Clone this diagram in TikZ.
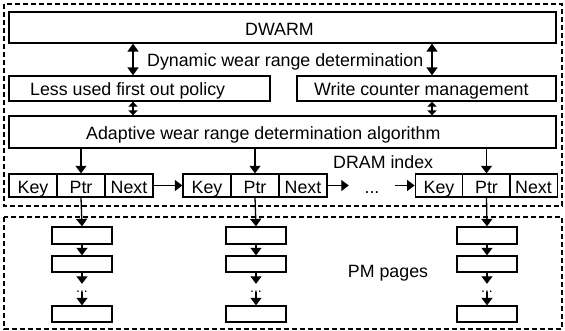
\documentclass[tikz,border=0pt]{standalone}
\usepackage{fontspec}
\setmainfont{Liberation Sans}
\usetikzlibrary{arrows.meta}
\tikzset{
  txt/.style={font=\fontsize{17.8}{20}\selectfont, inner sep=0pt},
  box/.style={draw, line width=1.3pt, inner sep=0pt},
  cell/.style={box, txt, minimum width=48pt, minimum height=23pt, text height=15pt, text depth=0pt},
  page/.style={box, minimum width=60pt, minimum height=17pt},
  zone/.style={draw, line width=1.2pt, dash pattern=on 5pt off 3pt},
  arr/.style={line width=1.3pt, -{Triangle[width=11pt,length=7.5pt]}},
  dbl/.style={line width=1.6pt, {Triangle[width=11pt,length=8pt]}-{Triangle[width=11pt,length=8pt]}},
  sdbl/.style={line width=1.4pt, {Triangle[width=9pt,length=5pt]}-{Triangle[width=9pt,length=5pt]}},
}
\begin{document}
\begin{tikzpicture}[x=1pt,y=-1pt]
\useasboundingbox (0,0) rectangle (565,330);

% dashed zones: DRAM side and PM side
\draw[zone] (4,4) rectangle (562,206);
\draw[zone] (4,217) rectangle (562,329);

% management boxes
\node[box, minimum width=547pt, minimum height=31pt] (dwarm) at (282.5,27.5) {};
\node[box, minimum width=261pt, minimum height=25pt] (less)  at (139.5,88.5) {};
\node[box, minimum width=259pt, minimum height=25pt] (write) at (426.5,88.5) {};
\node[box, minimum width=547pt, minimum height=32pt] (adapt) at (282.5,132) {};

\node[txt, anchor=base west] (tdwarm) at (245,35) {DWARM};
\node[txt, anchor=base west] (tdyn)   at (147,66) {Dynamic wear range determination};
\node[txt, anchor=base west] (tless)  at (30,95)  {Less used first out policy};
\node[txt, anchor=base west] (twrite) at (314,95) {Write counter management};
\node[txt, anchor=base west] (tadapt) at (86,139) {Adaptive wear range determination algorithm};
\node[txt, anchor=base west] (tdram)  at (333,168) {DRAM index};
\node[txt, anchor=base] (tpm) at (388,277) {PM pages};

% columns for the two-headed arrows
\coordinate (cl) at (133,0);
\coordinate (cr) at (432,0);
\draw[dbl]  (dwarm.south -| cl) -- (less.north -| cl);
\draw[dbl]  (dwarm.south -| cr) -- (write.north -| cr);
\draw[sdbl] (less.south -| cl)  -- (adapt.north -| cl);
\draw[sdbl] (write.south -| cr) -- (adapt.north -| cr);

% DRAM index entries
\node[cell] (key1) at (33,185.5)  {Key};
\node[cell] (ptr1) at (81,185.5)  {Ptr};
\node[cell] (nxt1) at (129,185.5) {Next};
\node[cell] (key2) at (207,185.5) {Key};
\node[cell] (ptr2) at (255,185.5) {Ptr};
\node[cell] (nxt2) at (303,185.5) {Next};
\node[cell, minimum width=47.5pt] (key3) at (439,185.5)   {Key};
\node[cell, minimum width=47.5pt] (ptr3) at (486.5,185.5) {Ptr};
\node[cell, minimum width=47.5pt] (nxt3) at (533.5,185.5) {Next};
\node[txt, minimum width=46pt, text height=15pt, text depth=0pt, minimum height=23pt] (hdots) at (372,185.5) {...};

\draw[arr] (nxt1.east) -- (key2.west);
\draw[arr] (nxt2.east) -- (hdots.west);
\draw[arr] (hdots.east) -- (key3.west);

\draw[arr] (adapt.south -| ptr1) -- (ptr1.north);
\draw[arr] (adapt.south -| ptr2) -- (ptr2.north);
\draw[arr] (adapt.south -| ptr3) -- (ptr3.north);

% PM page chains
\foreach \c/\x in {1/82, 2/256, 3/487} {
  \node[page] (pa\c) at (\x,235.5) {};
  \node[page, minimum height=16pt] (pb\c) at (\x,264) {};
  \node[page, minimum height=16pt] (pc\c) at (\x,314) {};
  \node[inner sep=0pt, font=\fontsize{14}{14}\selectfont, text height=0pt, text depth=0pt, minimum height=16pt] (vd\c) at (\x,292) {...};
  \draw[arr] (pa\c.south) -- (pb\c.north);
  \draw[arr] (pb\c.south) -- (vd\c.north);
  \draw[arr] (vd\c.center) -- (pc\c.north);
}
\draw[arr] (ptr1.south) -- (pa1.north);
\draw[arr] (ptr2.south) -- (pa2.north);
\draw[arr] (ptr3.south) -- (pa3.north);
\end{tikzpicture}
\end{document}
